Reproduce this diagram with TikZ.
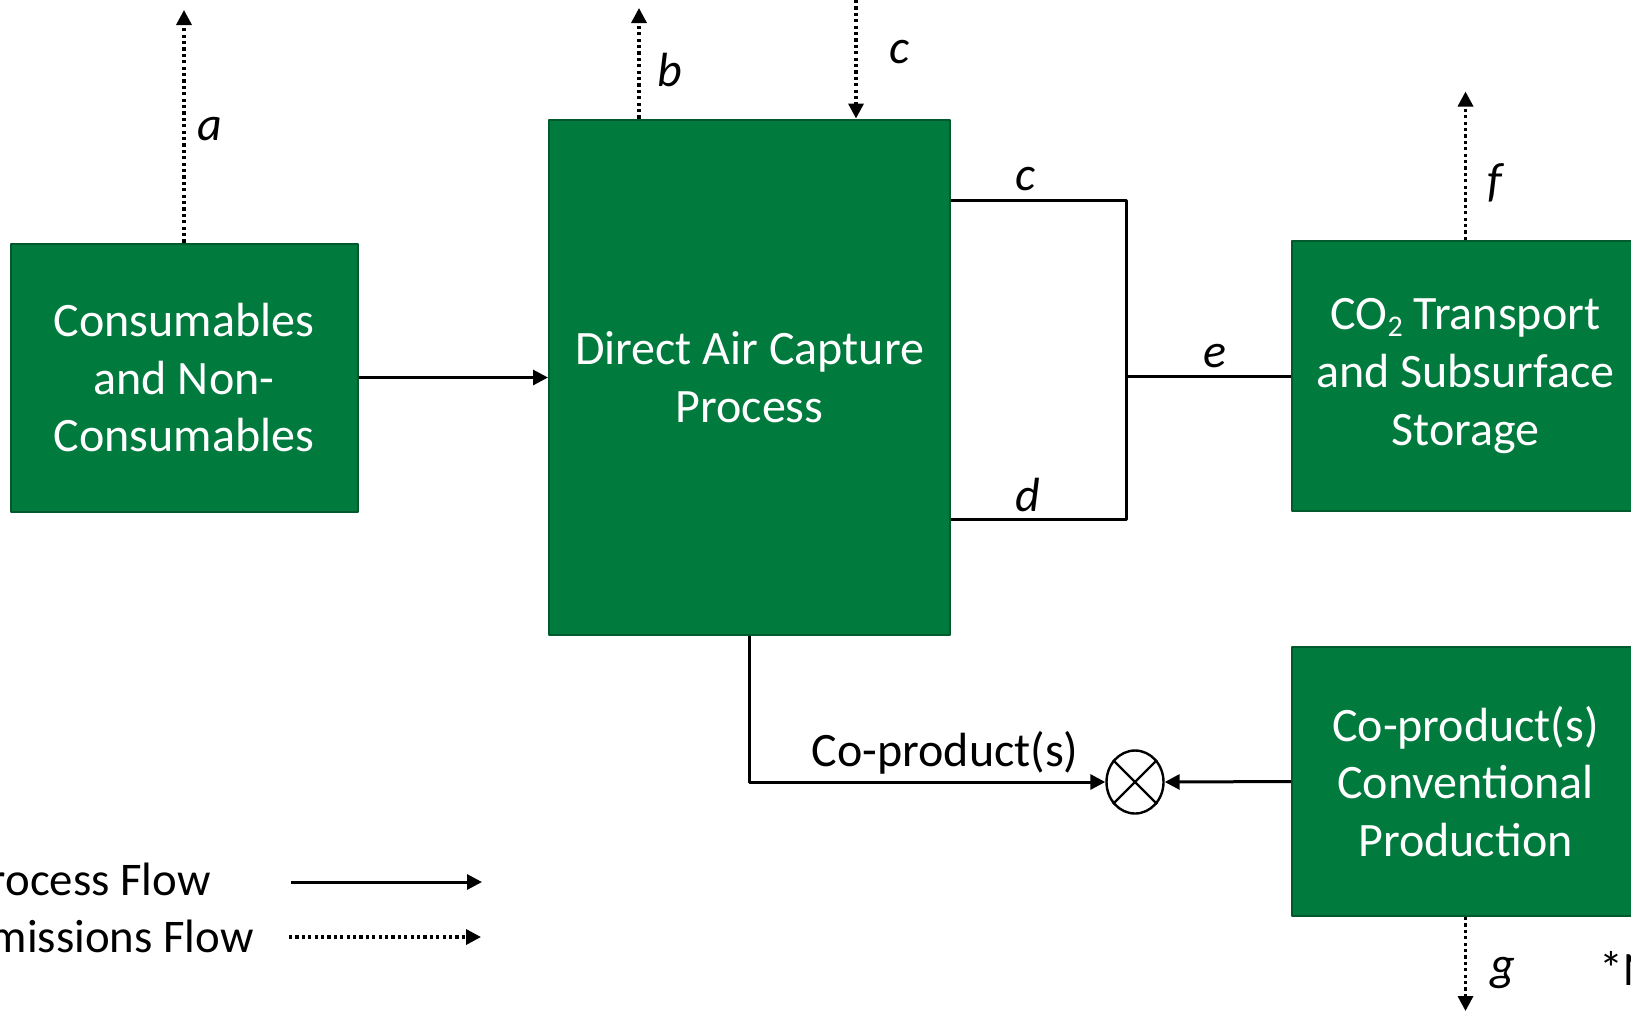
\documentclass[tikz,border=0pt]{standalone}
\usepackage{fontspec}
\setmainfont{Carlito}
\usetikzlibrary{arrows.meta,shapes.geometric,positioning}
\definecolor{boxgreen}{RGB}{0,122,61}
\definecolor{edgegreen}{RGB}{0,90,45}
\newcommand{\subtwo}{\raisebox{-0.3ex}{\fontsize{15}{15}\selectfont 2}}
\begin{document}
\begin{tikzpicture}[x=0.5pt, y=-0.5pt, line join=round, >={Triangle[length=7.5pt,width=7.5pt]}]
	\tikzset{
		block/.style={draw=edgegreen, line width=1pt, fill=boxgreen, text=white, align=center, inner sep=0pt, font=\fontsize{24}{28.9}\selectfont},
		flow/.style={line width=1.5pt},
		emis/.style={line width=1.7pt, dash pattern=on 1.6pt off 1.6pt},
		lbl/.style={font=\fontsize{24}{28}\selectfont\itshape},
		txt/.style={font=\fontsize{24}{28}\selectfont},
		legtxt/.style={font=\fontsize{23.4}{28}\selectfont, anchor=east, inner sep=0pt},
	}
	\useasboundingbox (0,0) rectangle (1631,1014);
	%Blocks
	\node[block, minimum width=173.5pt, minimum height=134pt] (cons) at (184,377.5) {Consumables\\and Non-\\Consumables};
	\node[block, minimum width=200.5pt, minimum height=257.5pt] (dac) at (749.5,377) {Direct Air Capture\\Process};
	\node[block, minimum width=173.5pt, minimum height=135pt] (co2) at (1465.5,376) {CO\subtwo{} Transport\\and Subsurface\\Storage};
	\node[block, minimum width=173.5pt, minimum height=134.5pt] (cop) at (1465.5,781.5) {Co-product(s)\\Conventional\\Production};
	\node[draw, ellipse, line width=1.2pt, minimum width=28.5pt, minimum height=31.5pt, inner sep=0pt] (ox) at (1135,782) {};
	\draw[line width=1.2pt] (ox.135) -- (ox.-45) (ox.45) -- (ox.-135);
	
	%Emissions
	\coordinate (atop) at (184,10);
	\coordinate (btop) at (639,8);
	\coordinate (cin) at (856,0);
	\coordinate (ftop) at (1465.5,91.5);
	\coordinate (gbot) at (1465.5,1011);
	\draw[emis,->] (cons.north) -- (atop);
	\draw[emis,->] (dac.north -| btop) -- (btop);
	\draw[emis,->] (cin) -- (dac.north -| cin);
	\draw[emis,->] (co2.north) -- (ftop);
	\draw[emis,->] (cop.south) -- (gbot);
	
	%Process
	\coordinate (cj) at (1126.5,200.8);
	\coordinate (dj) at (1126.5,519);
	\coordinate (split) at (1126.5,376);
	\draw[flow,->] (cons.east) -- (dac.west |- cons.east);
	\draw[flow] (dac.east |- cj) -- (cj) -- (dj) -- (dac.east |- dj);
	\draw[flow] (split) -- (co2.west);
	\draw[flow,->] (dac.south) |- (ox.west) node[pos=0.775, above, txt]{Co-product(s)};
	\draw[flow,->] (cop.west) -- (ox.east);
	
	%Labels
	\node[lbl] at (210,129) {a};
	\node[lbl] at (670,70) {b};
	\node[lbl] at (899,52) {c};
	\node[lbl] at (1025,179) {c};
	\node[lbl] at (1028,495) {d};
	\node[lbl] at (1215,356) {e};
	\node[lbl] at (1495,183) {f};
	\node[lbl] at (1503,973) {g};
	\node[txt, anchor=west, inner sep=0pt] at (1599,968) {*N};
	
	%Legend
	\node[legtxt] (lgp) at (211,879) {Process Flow};
	\node[legtxt] (lge) at (254,936) {Emissions Flow};
	\coordinate (lp1) at (291,882);
	\coordinate (lp2) at (482,882);
	\coordinate (le1) at (289,937);
	\coordinate (le2) at (481,937);
	\draw[flow,->] (lp1) -- (lp2);
	\draw[emis,->] (le1) -- (le2);
\end{tikzpicture}
\end{document}
